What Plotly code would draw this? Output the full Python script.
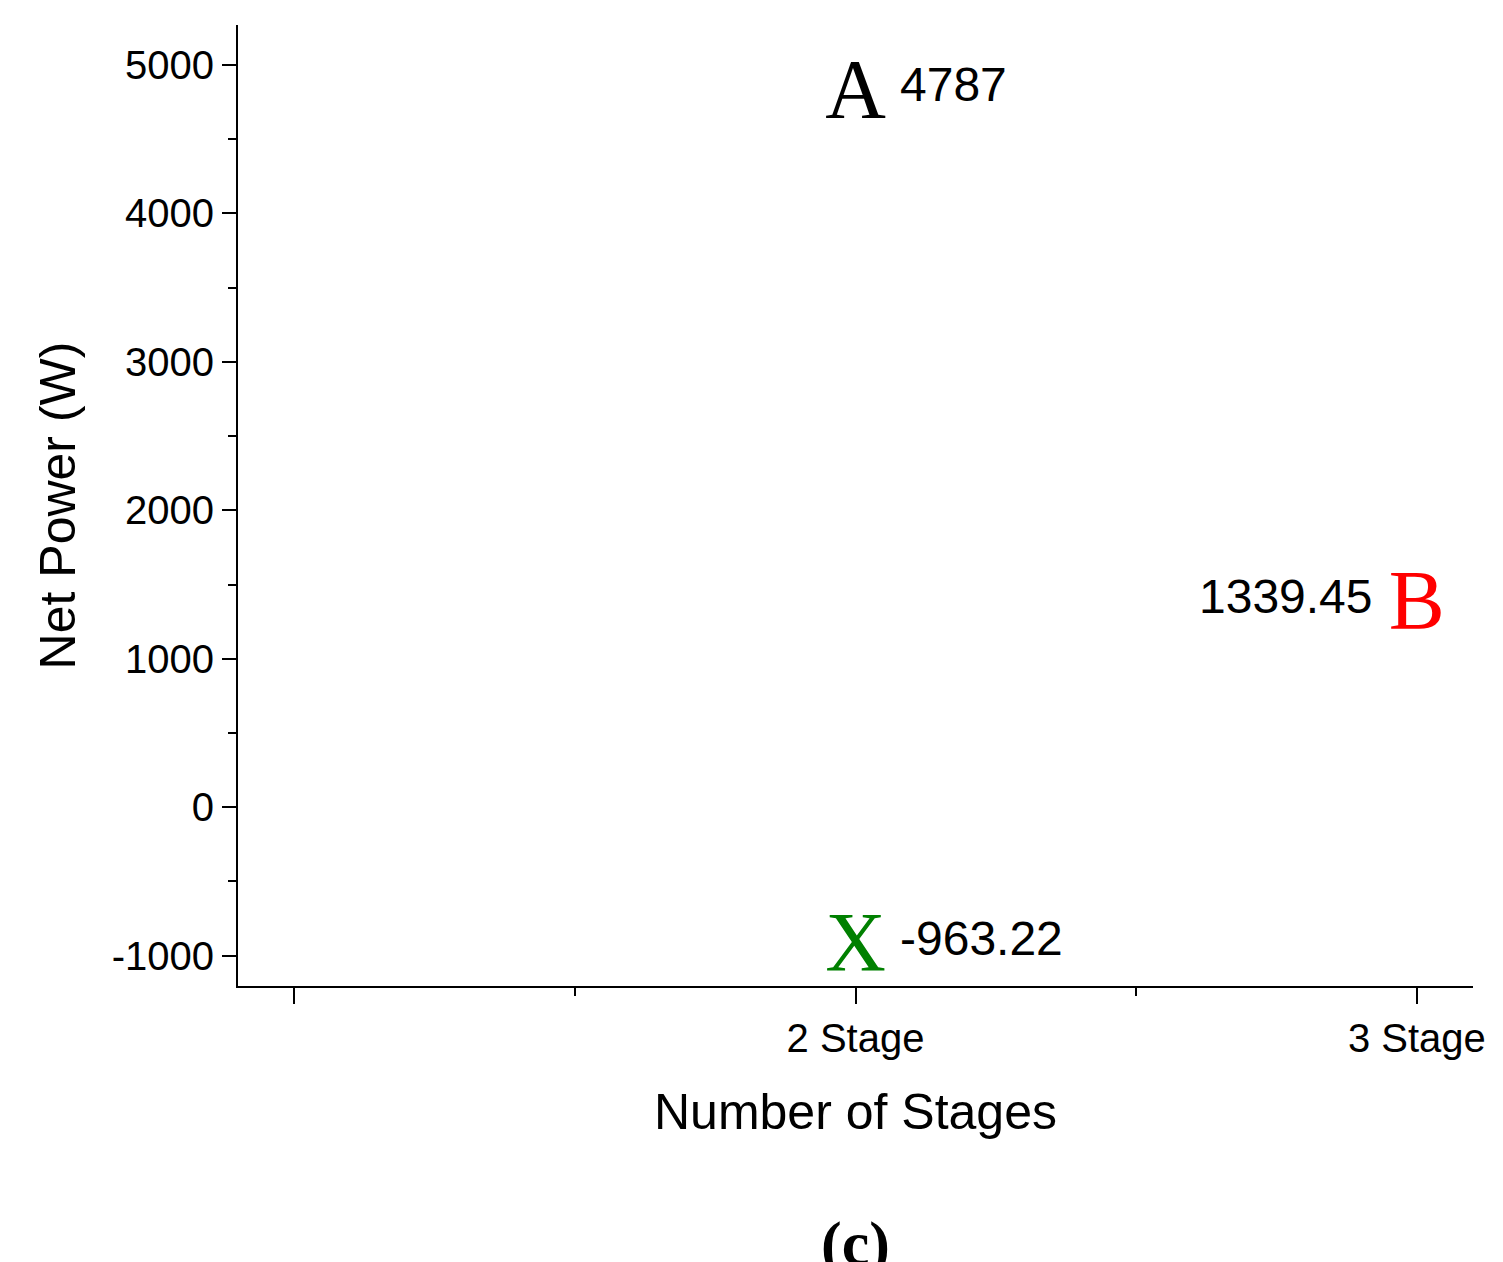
import plotly.graph_objects as go

stages = [2, 2, 3]
values = [4787, -963.22, 1339.45]
letters = ["A", "X", "B"]
colors = ["black", "green", "red"]
labels = ["4787", "-963.22", "1339.45"]
tick_vals = [1, 2, 3]
tick_text = ["", "2 Stage", "3 Stage"]
y_ticks = [-1000, 0, 1000, 2000, 3000, 4000, 5000]
y_text = ["-1000", "0", "1000", "2000", "3000", "4000", "5000"]

fig = go.Figure()
fig.add_trace(go.Scatter(x=stages, y=values, mode="text", text=letters,
                         textfont=dict(family="Liberation Serif", size=84, color=colors),
                         textposition="middle center", showlegend=False))
anns = []
for x, y, t in zip(stages, values, labels):
    right = x < 3
    anns.append(dict(x=x, y=y, text=t, showarrow=False, xref="x", yref="y",
                     xanchor="left" if right else "right",
                     xshift=42 if right else -42, yshift=12,
                     font=dict(family="Liberation Sans", size=48, color="black")))
anns.append(dict(x=0.5, y=-0.23, xref="paper", yref="paper", text="<b>(c)</b>", showarrow=False,
                 yanchor="top",
                 font=dict(family="Liberation Serif", size=62, color="black")))
fig.update_layout(
    width=1503, height=1262, plot_bgcolor="white", paper_bgcolor="white",
    margin=dict(l=230, r=38, t=17, b=284, autoexpand=False), annotations=anns,
    font=dict(family="Liberation Sans", color="black"),
    xaxis=dict(range=[0.9, 3.1], tickvals=tick_vals, ticktext=tick_text, showgrid=False,
               zeroline=False, showline=True, linecolor="black", linewidth=2, automargin=False,
               ticks="outside", ticklen=16, tickwidth=2, tickcolor="black",
               tickfont=dict(size=40), minor=dict(dtick=0.5, tick0=1, ticks="outside", ticklen=8, tickwidth=2, tickcolor="black"),
               title=dict(text="Number of Stages", font=dict(size=50), standoff=35)),
    yaxis=dict(range=[-1205, 5270], tickvals=y_ticks, ticktext=y_text, showgrid=False,
               zeroline=False, showline=True, linecolor="black", linewidth=2, automargin=False,
               ticks="outside", ticklen=14, tickwidth=2, tickcolor="black",
               tickfont=dict(size=40), minor=dict(dtick=500, tick0=0, ticks="outside", ticklen=8, tickwidth=2, tickcolor="black"),
               title=dict(text="Net Power (W)", font=dict(size=50), standoff=20)),
)
fig.write_html("out.html")
